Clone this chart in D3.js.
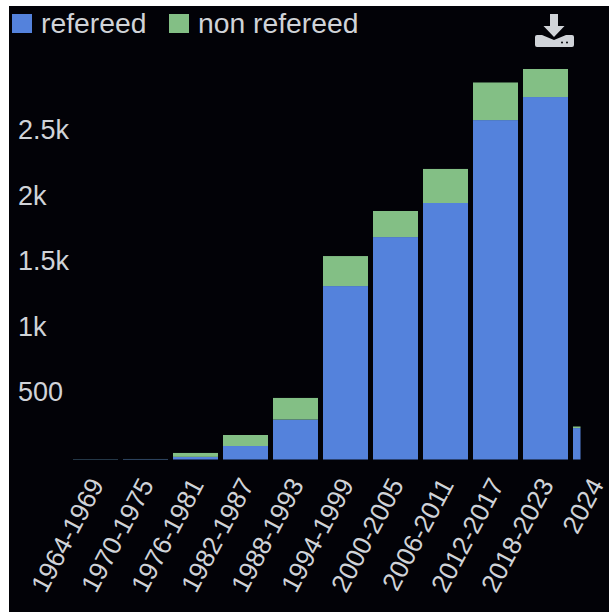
<!DOCTYPE html>
<html>
<head>
<meta charset="utf-8">
<script src="https://cdn.jsdelivr.net/npm/d3@7/dist/d3.min.js"></script>
<style>
  html, body { margin: 0; padding: 0; background: #fff; }
  svg { display: block; }
  text { font-family: "Liberation Sans", Arial, sans-serif; fill: #d0d3d8; }
</style>
</head>
<body>
<div id="chart"></div>
<script>
// values
var periods = ["1964-1969","1970-1975","1976-1981","1982-1987","1988-1993","1994-1999","2000-2005","2006-2011","2012-2017","2018-2023","2024"];
var periodYears = [6,6,6,6,6,6,6,6,6,6,1];
var refereed = [2,3,20,103,305,1324,1698,1958,2591,2767,240];
var nonRefereed = [1,1,30,84,165,229,199,260,287,214,12];
var yTicks = [500,1000,1500,2000,2500];
var seriesNames = ["refereed","non refereed"];
var seriesColors = ["#5482dc","#83bf85"];

var width = 609, height = 612;

var svg = d3.select("#chart").append("svg")
  .attr("width", width)
  .attr("height", height);

// black panel, page shows as a white strip on top and left
svg.append("rect")
  .attr("x", 9)
  .attr("y", 6)
  .attr("width", width - 9)
  .attr("height", height - 6)
  .attr("fill", "#020207");

// 50px step, 45px bars
var xScale = d3.scaleBand()
  .domain(periods)
  .range([73, 73 + 50 * periods.length - 5])
  .paddingInner(0.1)
  .paddingOuter(0);

var yScale = d3.scaleLinear()
  .domain([0, 3000])
  .range([459.5, 66.5]);

// bar width follows how many years the period covers
function barWidth(i) {
  return xScale.bandwidth() * periodYears[i] / 6;
}

var bars = svg.append("g").attr("class", "bars");

bars.selectAll(".bar1")
  .data(periods)
  .enter()
  .append("rect")
  .attr("class", "bar1")
  .attr("x", function(d) { return xScale(d); })
  .attr("y", function(d, i) { return yScale(refereed[i]); })
  .attr("width", function(d, i) { return barWidth(i); })
  .attr("height", function(d, i) { return yScale(0) - yScale(refereed[i]); })
  .attr("fill", seriesColors[0]);

bars.selectAll(".bar2")
  .data(periods)
  .enter()
  .append("rect")
  .attr("class", "bar2")
  .attr("x", function(d) { return xScale(d); })
  .attr("y", function(d, i) { return yScale(refereed[i] + nonRefereed[i]); })
  .attr("width", function(d, i) { return barWidth(i); })
  .attr("height", function(d, i) { return yScale(refereed[i]) - yScale(refereed[i] + nonRefereed[i]); })
  .attr("fill", seriesColors[1]);

// y axis
var yAxis = d3.axisLeft(yScale)
  .tickValues(yTicks)
  .tickSize(0)
  .tickPadding(0)
  .tickFormat(function(d) { return d >= 1000 ? (d / 1000) + "k" : d; });

var yG = svg.append("g")
  .attr("class", "y axis")
  .attr("transform", "translate(64,0)")
  .call(yAxis);
yG.select(".domain").remove();
yG.selectAll("text")
  .attr("x", null)
  .attr("dy", "0.32em")
  .style("text-anchor", "start")
  .attr("transform", "translate(-46,-2)")
  .style("font-size", "27px");

// x axis
var xAxis = d3.axisBottom(xScale).tickSize(0);
var xG = svg.append("g")
  .attr("class", "x axis")
  .attr("transform", "translate(0,459.5)")
  .call(xAxis);
xG.select(".domain").remove();
xG.selectAll("text")
  .attr("x", null)
  .attr("y", null)
  .attr("dy", null)
  .style("text-anchor", "end")
  .style("font-size", "26px")
  .attr("transform", "translate(9,25) rotate(-62)");

// legend
var legendX = [12, 169];
var legend = svg.selectAll(".legend")
  .data(seriesNames)
  .enter()
  .append("g")
  .attr("class", "legend")
  .attr("transform", function(d, i) { return "translate(" + legendX[i] + ",14)"; });
legend.append("rect")
  .attr("width", 20)
  .attr("height", 19)
  .attr("fill", function(d, i) { return seriesColors[i]; });
legend.append("text")
  .attr("x", 29)
  .attr("y", 19)
  .style("font-size", "28.3px")
  .text(function(d) { return d; });

// download icon
var icon = svg.append("g").attr("class", "icon").attr("fill", "#d0d3d8");
icon.append("path")
  .attr("d", "M550 14h8v12h6.5l-10.5 11-10.5-11h6.5z");
icon.append("path")
  .attr("d", "M537 35h5l12 5 12-5h6a2 2 0 0 1 2 2v8a2 2 0 0 1-2 2h-35a2 2 0 0 1-2-2v-8a2 2 0 0 1 2-2z");
icon.append("circle").attr("cx", 562).attr("cy", 42.5).attr("r", 1).attr("fill", "#020207");
icon.append("circle").attr("cx", 567).attr("cy", 42.5).attr("r", 1).attr("fill", "#020207");
</script>
</body>
</html>
